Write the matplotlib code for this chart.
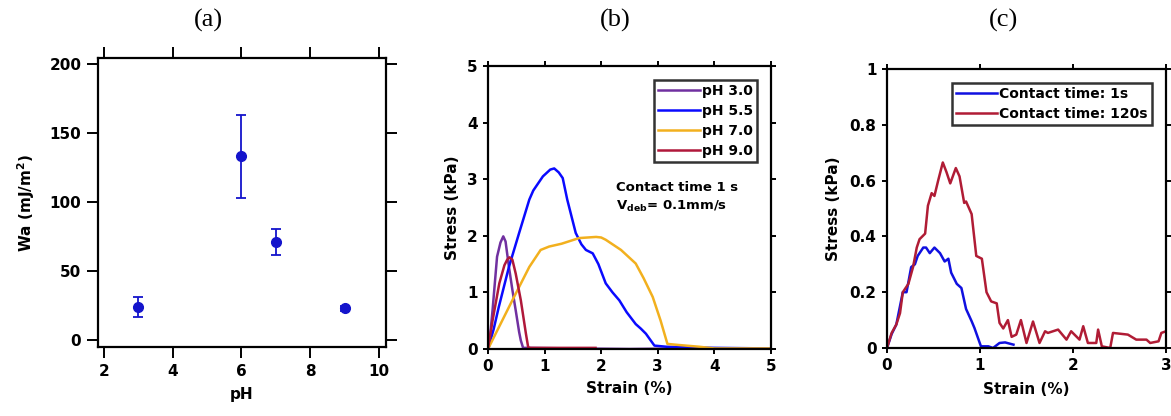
import matplotlib
matplotlib.use("Agg")
import matplotlib.pyplot as plt

plt.rcParams['font.family'] = ['DejaVu Sans']
plt.rcParams['font.weight'] = 'bold'
plt.rcParams['axes.labelweight'] = 'bold'
plt.rcParams['mathtext.default'] = 'regular'

# (a) work of adhesion vs pH
ph = [3, 6, 7, 9]
wa = [24, 133, 71, 23]
wa_err = [7, 30, 9.5, 2]

# (b) stress-strain curves, contact time 1 s
strain_ph3 = [0, 0.02, 0.08, 0.16, 0.22, 0.27, 0.31, 0.37, 0.43, 0.49, 0.55, 0.58, 0.62, 0.7, 1.5, 2.5, 3.5, 4.6]
stress_ph3 = [0, 0.05, 0.68, 1.63, 1.88, 1.99, 1.9, 1.45, 1.05, 0.68, 0.3, 0.15, 0.02, 0.02, 0.01, 0.0, 0.01, 0.01]
strain_ph55 = [0, 0.1, 0.19, 0.37, 0.55, 0.73, 0.8, 0.97, 1.1, 1.17, 1.25, 1.32, 1.4, 1.55, 1.65, 1.73, 1.85, 1.95, 2.08, 2.2,
               2.32, 2.45, 2.61, 2.7, 2.79, 2.94, 3.15, 3.5, 4.0, 5.0]
stress_ph55 = [0, 0.35, 0.74, 1.45, 2.05, 2.64, 2.8, 3.05, 3.17, 3.19, 3.12, 3.02, 2.64, 2.05, 1.85, 1.75, 1.69, 1.5, 1.16, 1.0,
               0.86, 0.65, 0.44, 0.36, 0.27, 0.06, 0.04, 0.03, 0.02, 0.01]
strain_ph7 = [0, 0.19, 0.43, 0.73, 0.93, 1.08, 1.3, 1.61, 1.91, 2.0, 2.08, 2.35, 2.61, 2.75, 2.91, 3.05, 3.17, 3.38, 3.73, 4.0, 5.0]
stress_ph7 = [0, 0.38, 0.86, 1.45, 1.75, 1.81, 1.86, 1.96, 1.98, 1.97, 1.93, 1.75, 1.51, 1.25, 0.92, 0.5, 0.09, 0.07, 0.04, 0.01, 0.01]
strain_ph9 = [0, 0.08, 0.2, 0.29, 0.34, 0.38, 0.43, 0.49, 0.58, 0.67, 0.71, 0.75, 1.2, 1.9]
stress_ph9 = [0, 0.5, 1.16, 1.48, 1.58, 1.62, 1.58, 1.33, 0.86, 0.27, 0.03, 0.02, 0.02, 0.02]

# (c) stress-strain curves, pH 5.5 at two contact times
strain_1s = [0, 0.05, 0.1, 0.17, 0.21, 0.26, 0.3, 0.33, 0.39, 0.42, 0.46, 0.51, 0.57, 0.62, 0.66, 0.69, 0.75, 0.8, 0.85,
             0.91, 0.94, 1.01, 1.09, 1.14, 1.21, 1.27, 1.36]
stress_1s = [0, 0.05, 0.084, 0.2, 0.2, 0.29, 0.3, 0.33, 0.36, 0.36, 0.34, 0.36, 0.34, 0.31, 0.32, 0.27, 0.23, 0.215, 0.14,
             0.096, 0.072, 0.006, 0.006, 0.0, 0.018, 0.02, 0.012]
strain_120s = [0, 0.05, 0.1, 0.14, 0.17, 0.23, 0.28, 0.32, 0.35, 0.41, 0.44, 0.48, 0.51, 0.55, 0.6, 0.64, 0.68, 0.74, 0.78,
               0.83, 0.85, 0.91, 0.96, 1.02, 1.07, 1.12, 1.18, 1.21, 1.25, 1.3, 1.34, 1.39, 1.44, 1.5, 1.57, 1.64, 1.7,
               1.73, 1.84, 1.93, 1.98, 2.07, 2.11, 2.16, 2.25, 2.27, 2.31, 2.4, 2.43, 2.59, 2.68, 2.79, 2.83, 2.92, 2.95, 3.0]
stress_120s = [0, 0.054, 0.084, 0.125, 0.2, 0.23, 0.29, 0.36, 0.39, 0.41, 0.51, 0.555, 0.545, 0.6, 0.665, 0.63, 0.59, 0.645,
               0.615, 0.52, 0.525, 0.48, 0.33, 0.32, 0.2, 0.167, 0.16, 0.09, 0.07, 0.1, 0.04, 0.048, 0.1, 0.018, 0.095, 0.018,
               0.06, 0.054, 0.066, 0.03, 0.06, 0.03, 0.078, 0.018, 0.018, 0.066, 0.006, 0.0, 0.054, 0.048, 0.03, 0.03, 0.018,
               0.024, 0.054, 0.06]

W, H = 1171, 416
fig = plt.figure(figsize=(W / 100, H / 100), dpi=100)


def px_axes(left, top, right, bottom):
    return fig.add_axes([left / W, 1 - bottom / H, (right - left) / W, (bottom - top) / H])


def style(ax, ticklen):
    for s in ax.spines.values():
        s.set_linewidth(1.6)
    ax.tick_params(direction='out', length=ticklen, width=1.4, labelsize=11, pad=4,
                   top=True, right=True, labeltop=False, labelright=False)


def legend(ax):
    leg = ax.legend(loc='upper right', fontsize=10, frameon=True, fancybox=False, framealpha=1,
                    handlelength=3.0, handletextpad=0.15, borderpad=0.3, labelspacing=0.42,
                    borderaxespad=1.0)
    leg.get_frame().set_edgecolor('#333333')
    leg.get_frame().set_linewidth(1.8)


# ---- (a)
ax = px_axes(98, 58, 386, 347)
ax.errorbar(ph, wa, yerr=wa_err, fmt='o', color='#1414cc', ms=7, capsize=3.5, elinewidth=1.3, capthick=1.3)
ax.set_xlim(1.83, 10.2)
ax.set_ylim(-5, 204)
ax.set_xticks([2, 4, 6, 8, 10])
ax.set_yticks([0, 50, 100, 150, 200])
ax.set_xlabel('pH', fontsize=11, labelpad=6)
ax.set_ylabel('Wa (mJ/m$^2$)', fontsize=11, labelpad=9)
style(ax, 8)

# ---- (b)
ax = px_axes(488, 66, 771, 349)
ax.plot(strain_ph3, stress_ph3, color='#7030a0', lw=1.8, label='pH 3.0')
ax.plot(strain_ph55, stress_ph55, color='#0a0aff', lw=1.8, label='pH 5.5')
ax.plot(strain_ph7, stress_ph7, color='#f2b01e', lw=1.8, label='pH 7.0')
ax.plot(strain_ph9, stress_ph9, color='#b0183a', lw=1.8, label='pH 9.0')
ax.set_xlim(0, 5)
ax.set_ylim(0, 5)
ax.set_xticks(range(6))
ax.set_yticks(range(6))
ax.set_xlabel('Strain (%)', fontsize=11, labelpad=5)
ax.set_ylabel('Stress (kPa)', fontsize=11, labelpad=5)
ax.text(2.27, 2.8, 'Contact time 1 s', fontsize=9.5)
ax.text(2.27, 2.45, 'V$_{deb}$= 0.1mm/s', fontsize=9.5)
legend(ax)
style(ax, 3.5)

# ---- (c)
ax = px_axes(887, 69, 1166, 348)
ax.plot(strain_1s, stress_1s, color='#1010e0', lw=1.8, label='Contact time: 1s')
ax.plot(strain_120s, stress_120s, color='#b01c35', lw=1.8, label='Contact time: 120s')
ax.set_xlim(0, 3)
ax.set_ylim(0, 1)
ax.set_xticks([0, 1, 2, 3])
ax.set_yticks([0, 0.2, 0.4, 0.6, 0.8, 1])
ax.set_yticklabels(['0', '0.2', '0.4', '0.6', '0.8', '1'])
ax.set_xlabel('Strain (%)', fontsize=11, labelpad=6)
ax.set_ylabel('Stress (kPa)', fontsize=11, labelpad=6)
legend(ax)
style(ax, 3.5)

for x, t in [(208, '(a)'), (615, '(b)'), (1003, '(c)')]:
    fig.text(x / W, 1 - 20 / H, t, family='Liberation Serif', fontweight='normal', fontsize=19,
             ha='center', va='center')

fig.savefig('out.png', dpi=100)
